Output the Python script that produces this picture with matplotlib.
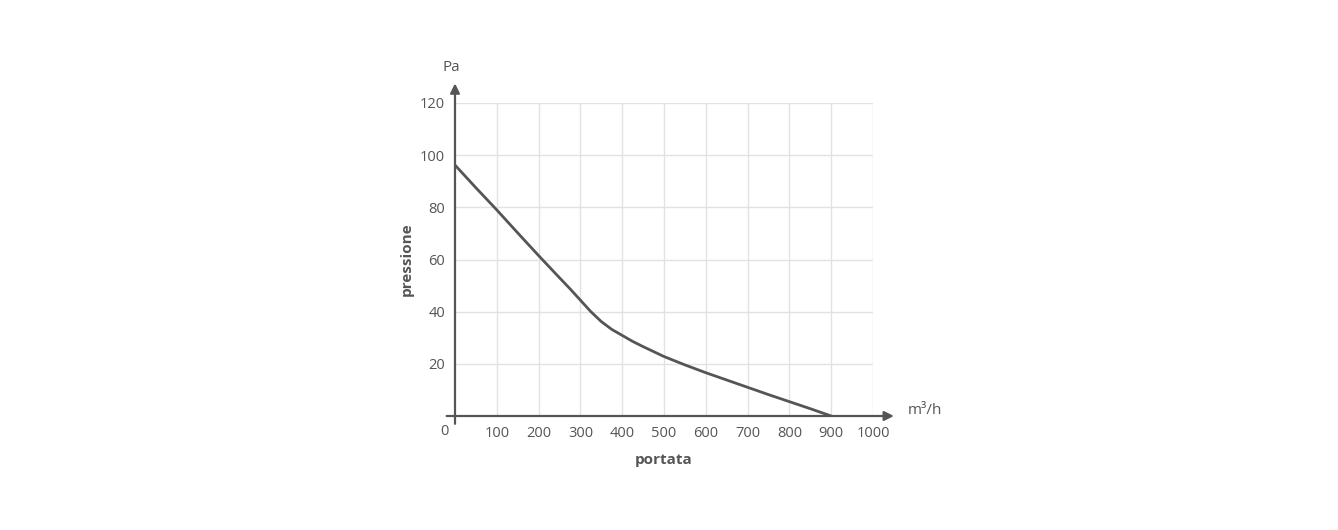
import numpy as np
import matplotlib.pyplot as plt

plt.rcParams['font.family'] = ['Open Sans', 'DejaVu Sans']

# curva portata / pressione
portata = [0, 50, 100, 150, 200, 250, 275, 300, 325, 350, 375, 400, 425, 450, 500,
           550, 600, 650, 700, 750, 800, 850, 900]
pressione = [96.2, 87.5, 79.0, 70.2, 61.5, 53.0, 48.8, 44.4, 40.0, 36.2, 33.2, 30.9, 28.6, 26.6, 22.8,
             19.6, 16.6, 13.8, 11.0, 8.2, 5.5, 2.8, 0.0]

xticks = [100, 200, 300, 400, 500, 600, 700, 800, 900, 1000]
yticks = [20, 40, 60, 80, 100, 120]

grey = '#555555'
grid = '#e2e2e2'

fig = plt.figure(figsize=(13.38, 5.30), dpi=100)
ax = fig.add_axes([455/1338, 1 - 416/530, 418/1338, 313/530])

ax.set_xlim(0, 1000)
ax.set_ylim(0, 120)
for s in ax.spines.values():
    s.set_visible(False)

ax.set_xticks(xticks)
ax.set_yticks(yticks)
ax.tick_params(length=0, labelsize=10.5, colors=grey, pad=7)
ax.grid(True, color=grid, lw=1)
ax.set_axisbelow(True)

ax.plot(portata, pressione, color=grey, lw=2, solid_capstyle='butt',
        solid_joinstyle='round', zorder=3)

# assi con frecce
ax.annotate('', xy=(1050, 0), xytext=(-20, 0), xycoords='data',
            arrowprops=dict(arrowstyle='-|>', color=grey, lw=1.6,
                            mutation_scale=14, shrinkA=0, shrinkB=0),
            annotation_clip=False, zorder=4)
ax.annotate('', xy=(0, 127.5), xytext=(0, -3), xycoords='data',
            arrowprops=dict(arrowstyle='-|>', color=grey, lw=1.6,
                            mutation_scale=14, shrinkA=0, shrinkB=0),
            annotation_clip=False, zorder=4)

ax.text(-25, -3, '0', ha='center', va='top', fontsize=10.5, color=grey)
ax.text(-10, 133.5, 'Pa', ha='center', va='center', fontsize=11, color=grey)
ax.text(1083, 2, 'm³/h', ha='left', va='center', fontsize=11, color=grey)
ax.text(-115, 60, 'pressione', ha='center', va='center', rotation=90,
        fontsize=11, fontweight='bold', color=grey)
ax.text(500, -17, 'portata', ha='center', va='center',
        fontsize=11, fontweight='bold', color=grey)

fig.savefig('out.png', dpi=100)
